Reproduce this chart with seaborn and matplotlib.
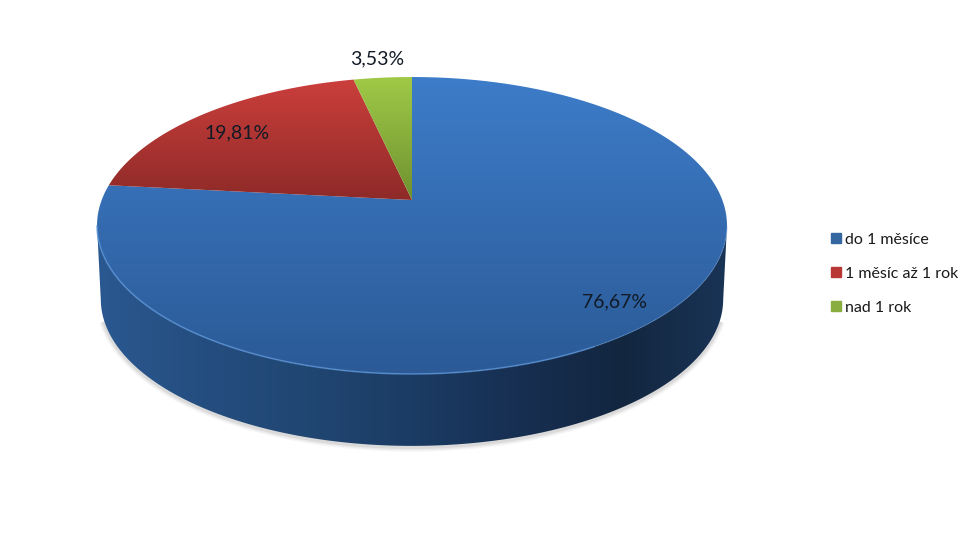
import numpy as np
import matplotlib
matplotlib.use("Agg")
import matplotlib.pyplot as plt
from matplotlib.lines import Line2D
from matplotlib.patches import Polygon
import seaborn as sns

# Data
categories = ["do 1 měsíce", "1 měsíc až 1 rok", "nad 1 rok"]
shares = [76.67, 19.81, 3.53]

# Look of the 3D pie: top/bottom colour of each face
face_colors = [("#3d7cc9", "#2b5a96"), ("#cb3f3c", "#8e2a28"), ("#a0c947", "#6f9130")]
side_colors = ["#2a5890", "#254e80", "#204672", "#1b3c64", "#172f52", "#12263f", "#1a3456"]
legend_colors = ["#34679f", "#b83634", "#8aad3f"]
label_xy = [(614, 302), (237, 133), (377, 59)]

sns.set_theme(style="white")
plt.rcParams["font.family"] = ["Lato", "DejaVu Sans"]

fig = plt.figure(figsize=(9.8, 5.43), dpi=100)
ax = fig.add_axes([0, 0, 1, 1])

# Let pie work out the slice angles, then project them in perspective
wedges, _ = ax.pie(shares, startangle=90, counterclock=False, normalize=True)
for w in wedges:
    w.set_visible(False)
ax.set_aspect("auto")
ax.set_xlim(0, 980)
ax.set_ylim(543, 0)
ax.set_axis_off()


def project(theta, scale=1.0, drop=0.0):
    t = np.radians(theta)
    x, y = np.cos(t), np.sin(t)
    w = 1 + 0.1717 * y
    return 412 + scale * 310.3 * x / w, 200 + drop - scale * 144.1 * y / w


def gradient(cmap, extent, vertical, clip, zorder):
    g = np.linspace(0, 1, 256)
    g = g[:, None] if vertical else g[None, :]
    im = ax.imshow(g, cmap=cmap, extent=extent, aspect="auto", zorder=zorder)
    patch = Polygon(clip, closed=True, transform=ax.transData, fc="none", ec="none")
    ax.add_patch(patch)
    im.set_clip_path(patch)


# Rims, lower half of the disc
lower = np.linspace(190, 350, 500)
top_x, top_y = project(lower)
bot_x, bot_y = project(lower, scale=0.988, drop=74)

# Soft shadow under the disc
for lw, a in [(7, 0.05), (5, 0.07), (3, 0.10)]:
    ax.plot(bot_x[25:-25], bot_y[25:-25] + 1, color="#555555", lw=lw, alpha=a, zorder=1,
            solid_capstyle="butt")

# Side wall
side_pts = np.r_[np.c_[top_x, top_y], np.c_[bot_x, bot_y][::-1]]
side_cmap = sns.blend_palette(side_colors, n_colors=256, as_cmap=True)
gradient(side_cmap, (97, 727, 446, 180), False, side_pts, 2)

# Top faces, each slice has its own gradient from its top to its bottom
for w, (c1, c2) in zip(wedges, face_colors):
    th = np.linspace(w.theta1, w.theta2, 400)
    x, y = project(th)
    pts = np.r_[[[412, 200]], np.c_[x, y]]
    cmap = sns.blend_palette([c1, c2], n_colors=256, as_cmap=True)
    gradient(cmap, (90, 735, pts[:, 1].max(), pts[:, 1].min()), True, pts, 3)

# Light edge round the front of the disc, fading out to the right
front = lower < 300
ax.plot(top_x[front], top_y[front], color="#5a94d8", lw=1.2, alpha=0.7, zorder=4)
ax.plot(top_x[~front], top_y[~front], color="#5a94d8", lw=1.0, alpha=0.3, zorder=4)

# Value labels
for v, (lx, ly) in zip(shares, label_xy):
    ax.text(lx, ly, f"{v:.2f}".replace(".", ",") + "%", fontsize=14, color="#111a26",
            ha="center", va="center", zorder=5)

# Legend
handles = [Line2D([], [], ls="none", marker="s", ms=6.5, mfc=c, mec=c) for c in legend_colors]
ax.legend(handles, categories, loc="upper left", bbox_to_anchor=(0.843, 0.572),
          frameon=False, fontsize=11.5, labelspacing=1.245, handletextpad=0.0,
          handlelength=1.2, labelcolor="#1a1a1a", borderpad=0, borderaxespad=0)

fig.savefig("out.png", dpi=100, facecolor="white")
plt.close(fig)
